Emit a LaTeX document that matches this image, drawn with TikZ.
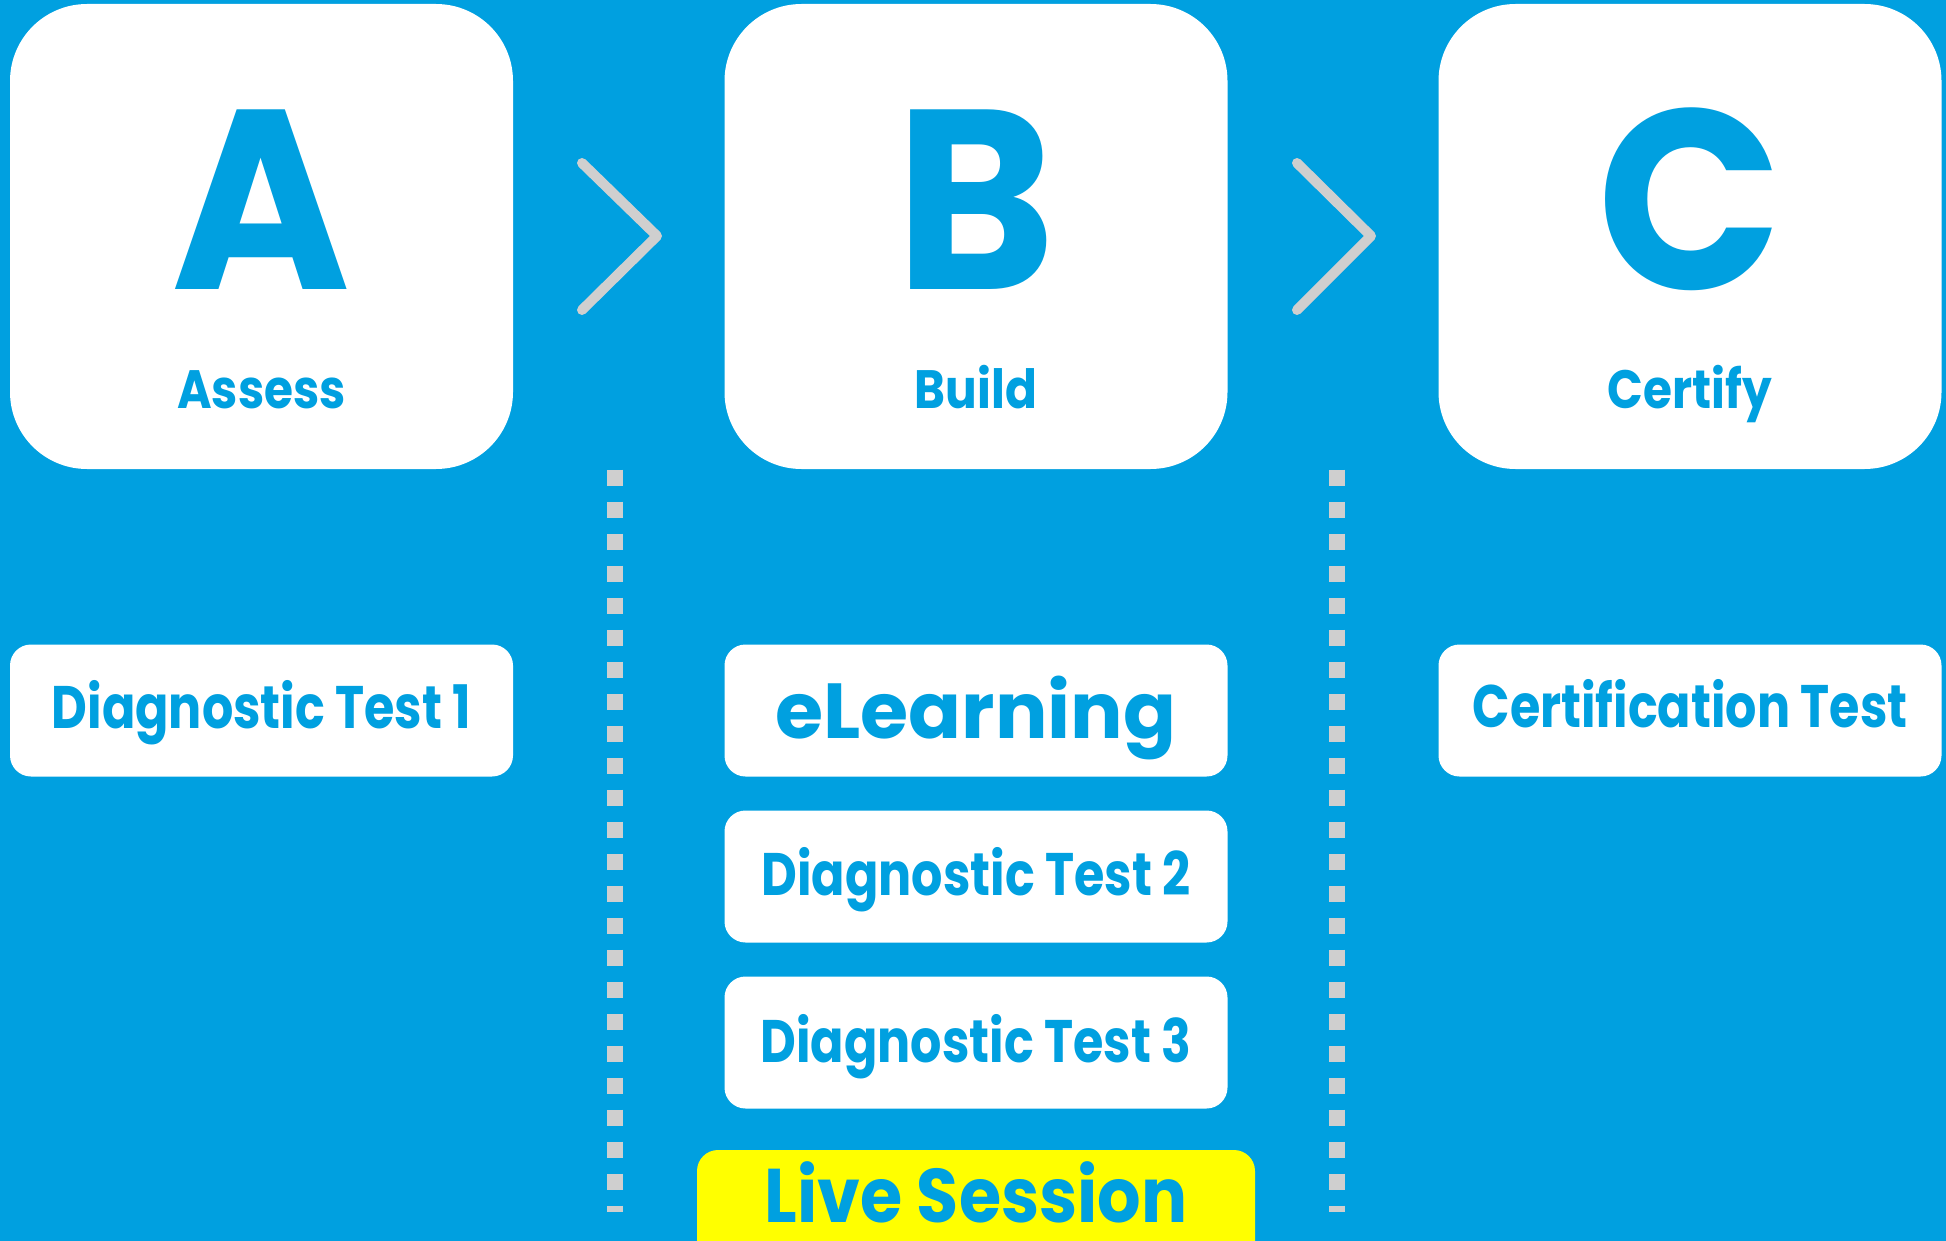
\documentclass[tikz,border=0pt]{standalone}
\usepackage{fontspec}
\setmainfont{Poppins}
\newfontfamily\fbig{Poppins}[FakeStretch=0.95]
\newfontfamily\fstep{Poppins}[FakeStretch=0.87]
\newfontfamily\fitem{Poppins}[FakeStretch=0.82]
\newfontfamily\flive{Poppins}[FakeStretch=0.9]
\definecolor{bgblue}{HTML}{00A0E0}
\definecolor{chev}{HTML}{CFCFCF}
\definecolor{ylw}{HTML}{FFFF00}
\begin{document}
\begin{tikzpicture}[x=1pt,y=-1pt,
  bigbox/.style={fill=white,rounded corners=77pt,minimum width=503pt,minimum height=465pt,inner sep=0pt},
  smallbox/.style={fill=white,rounded corners=21pt,minimum width=503pt,minimum height=132pt,inner sep=0pt},
  livebox/.style={fill=ylw,rounded corners=21pt,minimum width=558pt,minimum height=140pt,inner sep=0pt},
  bigletter/.style={text=bgblue,font=\fbig\bfseries\fontsize{256}{256}\selectfont,anchor=base,inner sep=0pt},
  steplabel/.style={text=bgblue,font=\fstep\bfseries\fontsize{54}{54}\selectfont,anchor=base,inner sep=0pt},
  itemlabel/.style={text=bgblue,font=\fitem\bfseries\fontsize{60}{60}\selectfont,anchor=base,inner sep=0pt},
  chevron/.style={draw=chev,line width=10pt,line cap=round,line join=round},
  dotline/.style={draw=chev,line width=16pt,dash pattern=on 16pt off 16pt}]
\fill[bgblue] (0,0) rectangle (1946,1241);
\useasboundingbox (0,0) rectangle (1946,1241);
% top boxes
\node[bigbox] (A) at (261.5,236.5) {};
\node[bigbox] (B) at (976,236.5) {};
\node[bigbox] (C) at (1690,236.5) {};
\node[bigletter] (Al) at (261.5,290) {A};
\node[bigletter] (Bl) at (976,290) {B};
\node[bigletter] (Cl) at (1690,290) {C};
\node[steplabel] (At) at (261.5,408) {Assess};
\node[steplabel] (Bt) at (976,408) {Build};
\node[steplabel] (Ct) at (1690,408) {Certify};
% chevrons
\coordinate (c1a) at (582,163);
\coordinate (c1b) at (657,236);
\coordinate (c1c) at (582,310);
\coordinate (c2a) at (1297,163);
\coordinate (c2b) at (1371,236);
\coordinate (c2c) at (1297,310);
\draw[chevron] (c1a) -- (c1b) -- (c1c);
\draw[chevron] (c2a) -- (c2b) -- (c2c);
% dotted separators
\coordinate (d1t) at (615,469.5);
\coordinate (d1b) at (615,1212);
\coordinate (d2t) at (1337,469.5);
\coordinate (d2b) at (1337,1212);
\draw[dotline] (d1t) -- (d1b);
\draw[dotline] (d2t) -- (d2b);
% item boxes
\node[smallbox] (D1) at (261.5,710.5) {};
\node[smallbox] (EL) at (976,710.5) {};
\node[smallbox] (D2) at (976,876.5) {};
\node[smallbox] (D3) at (976,1042.5) {};
\node[smallbox] (CT) at (1690,710.5) {};
\node[livebox] (LS) at (976,1220) {};
\node[itemlabel] (D1t) at (261.5,728) {Diagnostic Test 1};
\node[itemlabel,font=\bfseries\fontsize{78}{78}\selectfont] (ELt) at (976,738) {eLearning};
\node[itemlabel] (D2t) at (976,895) {Diagnostic Test 2};
\node[itemlabel] (D3t) at (976,1062) {Diagnostic Test 3};
\node[itemlabel] (CTt) at (1690,727) {Certification Test};
\node[itemlabel,font=\flive\bfseries\fontsize{76}{76}\selectfont] (LSt) at (976,1222) {Live Session};
\end{tikzpicture}
\end{document}
